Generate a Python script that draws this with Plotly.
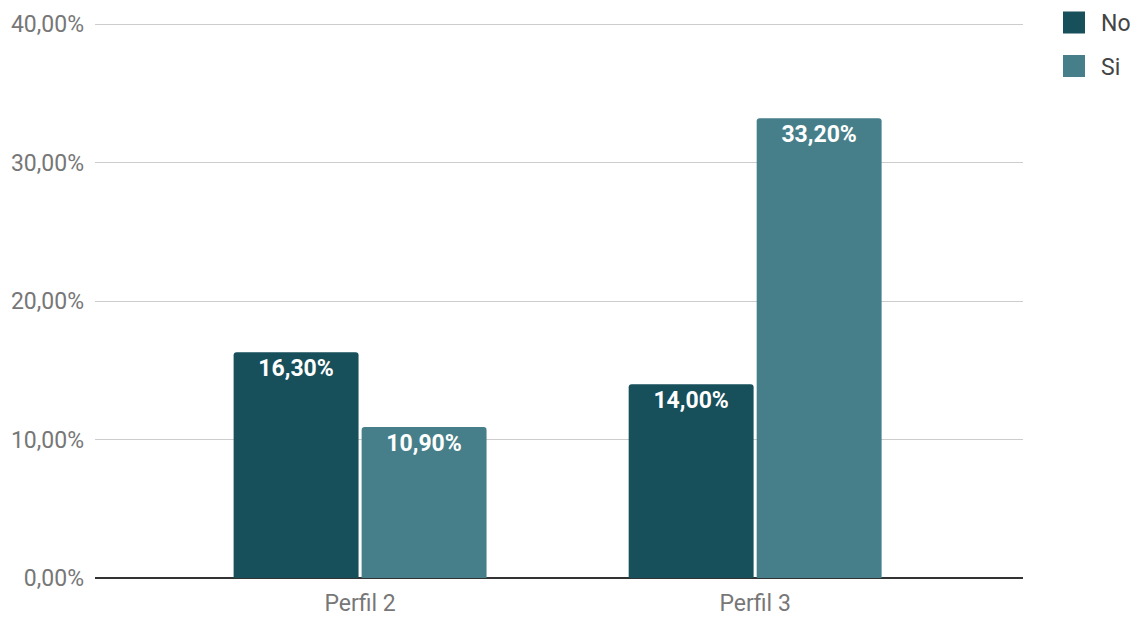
import plotly.graph_objects as go

categories = ["Perfil 2", "Perfil 3"]
series_names = ["No", "Si"]
no_values = [16.3, 14.0]
si_values = [10.9, 33.2]
colors = ["#174f5b", "#467f8a"]
y_ticks = [0, 10, 20, 30, 40]
y_tick_labels = ["0,00%", "10,00%", "20,00%", "30,00%", "40,00%"]

OFF = 8  # page body margin
W, H = 1142 - OFF, 617 - OFF
ML, MR, MT, MB = 95 - OFF, 119, 24 - OFF - 2, 39
PW, PH = W - ML - MR, H - MT - MB

def px_x(x):
    return (x - OFF - ML) / PW

def px_y(y):
    return (H - MB - (y - OFF)) / PH

FONT = "Roboto"
GRAY = "#777777"
FS = 23

fig = go.Figure()
for name, vals, col in zip(series_names, [no_values, si_values], colors):
    fig.add_trace(go.Bar(
        x=categories, y=vals, name=name,
        marker=dict(color=col, line=dict(width=0)),
        texttemplate="%{y:.2f}%",
        textposition="inside",
        insidetextanchor="end",
        textangle=0,
        textfont=dict(family=FONT, size=FS, color="white", weight="bold"),
        showlegend=False,
    ))

fig.update_layout(
    width=W, height=H,
    margin=dict(l=ML, r=MR, t=MT, b=MB, autoexpand=False),
    paper_bgcolor="white", plot_bgcolor="white",
    barmode="group", bargap=0.352, bargroupgap=0.024,
    barcornerradius=3,
    separators=",.",
    font=dict(family=FONT, color=GRAY, size=FS),
    xaxis=dict(
        range=[-0.671, 1.678], showgrid=False, showline=False, zeroline=False,
        ticks="", tickfont=dict(size=FS, color=GRAY), ticklabelstandoff=9,
    ),
    yaxis=dict(
        range=[0, 40.15], tickvals=y_ticks, ticktext=y_tick_labels,
        showgrid=True, gridcolor="#cccccc", gridwidth=1,
        zeroline=True, zerolinecolor="#333333", zerolinewidth=1.5,
        showline=False, ticks="", tickfont=dict(size=FS, color=GRAY),
        ticklabelstandoff=10,
    ),
)

# legend drawn manually (large swatches like the reference)
leg_centers = [22.5, 66]
for name, col, cy in zip(series_names, colors, leg_centers):
    fig.add_shape(type="rect", xref="paper", yref="paper",
                  x0=px_x(1063), x1=px_x(1085), y0=px_y(cy + 11), y1=px_y(cy - 11),
                  fillcolor=col, line=dict(width=0))
    fig.add_annotation(xref="paper", yref="paper", x=px_x(1099), y=px_y(cy + 1),
                       text=name, showarrow=False, xanchor="left", yanchor="middle",
                       font=dict(family=FONT, size=FS, color="#444444"))

fig.write_html("out.html")
